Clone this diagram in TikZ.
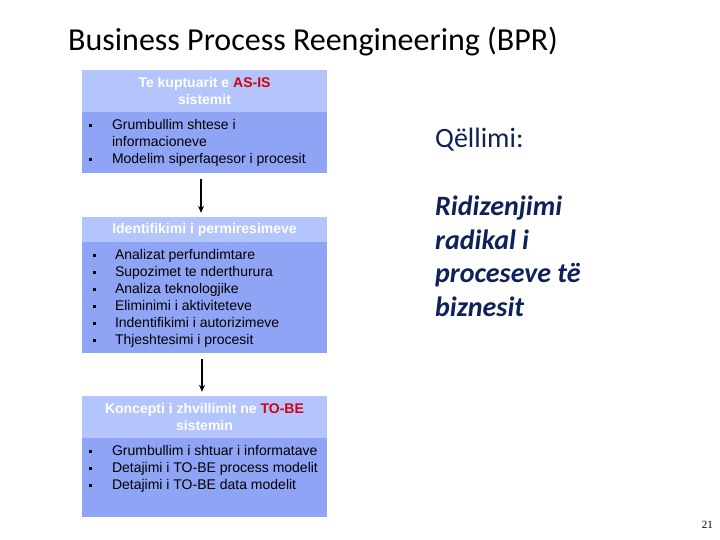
\documentclass[tikz,border=0pt]{standalone}
\usepackage{fontspec}
\setmainfont{Liberation Sans}
\newfontfamily\calibri{Carlito}
\newfontfamily\timesfont{Liberation Serif}
\usetikzlibrary{arrows.meta,positioning}
\definecolor{headblue}{RGB}{180,197,252}
\definecolor{bodyblue}{RGB}{143,164,245}
\definecolor{keyred}{RGB}{210,0,20}
\definecolor{goalnavy}{RGB}{14,33,88}
\newcommand\sqb{\raisebox{0.25ex}{\rule{3pt}{3pt}}}

\begin{document}
\begin{tikzpicture}[x=1pt, y=1pt, >={Stealth[length=7pt,width=6pt]},
  head/.style={fill=headblue, text=white, font=\bfseries\fontsize{14}{17}\selectfont,
    align=center, inner sep=0pt, minimum width=245pt},
  body/.style={fill=bodyblue, inner sep=0pt, minimum width=245pt},
  items/.style={inner sep=0pt, anchor=north west, font=\fontsize{14}{17}\selectfont},
  flow/.style={->, line width=1.6pt}]
  \useasboundingbox (0,0) rectangle (720,540);

  % title
  \node[font=\calibri\fontsize{32}{38}\selectfont, inner sep=0pt, anchor=base west]
    (title) at (68,489) {Business Process Reengineering (BPR)};

  % AS-IS box
  \node[head, minimum height=42pt] (ashead) at (204.5,449) {Te kuptuarit e \textcolor{keyred}{AS-IS}\\ sistemit};
  \node[body, minimum height=61pt, below=0pt of ashead] (asbody) {};
  \node[items] (aslist) at ([xshift=7pt,yshift=-5pt]asbody.north west)
    {\begin{tabular}{@{}p{23pt}@{}l@{}}
      \sqb & Grumbullim shtese i\\
           & informacioneve\\
      \sqb & Modelim siperfaqesor i procesit
    \end{tabular}};

  % improvements box
  \node[head, minimum height=25pt] (imphead) at (204.5,310.5) {Identifikimi i permiresimeve};
  \node[body, minimum height=111pt, below=0pt of imphead] (impbody) {};
  \node[items] (implist) at ([xshift=11pt,yshift=-5pt]impbody.north west)
    {\begin{tabular}{@{}p{22pt}@{}l@{}}
      \sqb & Analizat perfundimtare\\
      \sqb & Supozimet te nderthurura\\
      \sqb & Analiza teknologjike\\
      \sqb & Eliminimi i aktiviteteve\\
      \sqb & Indentifikimi i autorizimeve\\
      \sqb & Thjeshtesimi i procesit
    \end{tabular}};

  % TO-BE box
  \node[head, minimum height=42pt] (tbhead) at (204.5,123) {Koncepti i zhvillimit ne \textcolor{keyred}{TO-BE}\\ sistemin};
  \node[body, minimum height=79pt, below=0pt of tbhead] (tbbody) {};
  \node[items] (tblist) at ([xshift=7pt,yshift=-5pt]tbbody.north west)
    {\begin{tabular}{@{}p{23pt}@{}l@{}}
      \sqb & Grumbullim i shtuar i informatave\\
      \sqb & Detajimi i TO-BE process modelit\\
      \sqb & Detajimi i TO-BE data modelit
    \end{tabular}};

  % flow arrows
  \draw[flow] ([xshift=-3.5pt,yshift=-5pt]asbody.south) -- ([xshift=-3.5pt,yshift=4pt]imphead.north);
  \draw[flow] ([xshift=-2.5pt,yshift=-5pt]impbody.south) -- ([xshift=-2.5pt,yshift=4pt]tbhead.north);

  % goal text
  \node[font=\calibri\fontsize{28}{33}\selectfont, text=goalnavy, inner sep=0pt, anchor=base west]
    (goal) at (435,392) {Qëllimi:};
  \node[font=\calibri\bfseries\itshape\fontsize{28}{33.4}\selectfont, text=goalnavy, inner sep=0pt,
    anchor=north west, align=left] (goaltext) at (435,344) {Ridizenjimi\\ radikal i\\ proceseve të\\ biznesit};

  % page number
  \node[font=\timesfont\fontsize{11}{13}\selectfont, inner sep=0pt, anchor=base east] (page) at (713,11) {21};
\end{tikzpicture}
\end{document}
